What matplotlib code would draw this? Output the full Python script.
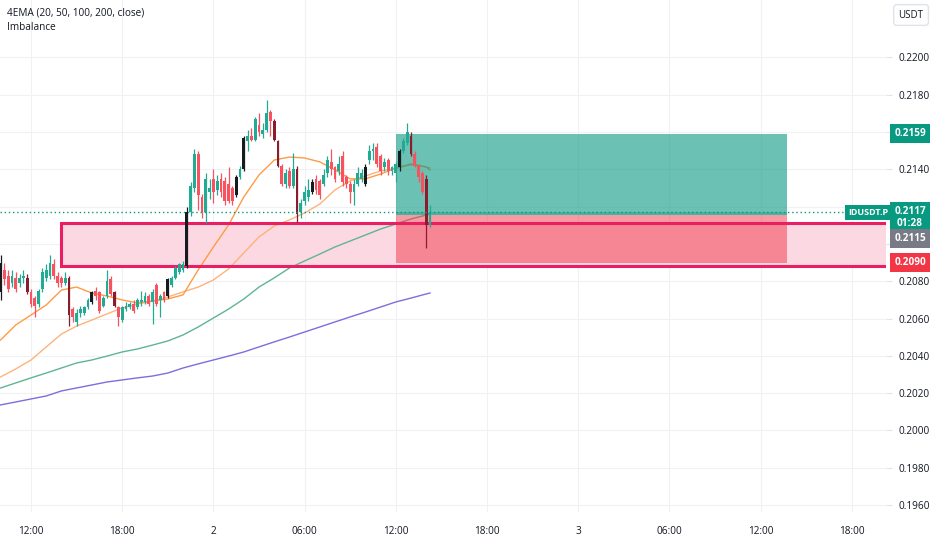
import matplotlib
matplotlib.use("Agg")
import matplotlib.pyplot as plt
from matplotlib.patches import Rectangle
from matplotlib.transforms import blended_transform_factory
import numpy as np

plt.rcParams['font.family'] = ['Open Sans', 'DejaVu Sans']

# 15 minute candles, index 0 = day 1 10:00
opens = [.2074, .2086, .2083, .2079, .2082, .2079, .2082, .2082, .2074, .2071,
         .2068, .2076, .2082, .2083, .2089, .2083, .2082, .2079, .2082, .2065,
         .2058, .2063, .2063, .2066, .2069, .2075, .2074, .2067, .2072, .2081,
         .2074, .2066, .2059, .2065, .2066, .2068, .2066, .2069, .2069, .2072,
         .2069, .2078, .2070, .2074, .2072, .2078, .2082, .2085, .2086, .2088,
         .2117, .2130, .2148, .2125, .2117, .2128, .2135, .2129, .2135, .2134,
         .2132, .2130, .2126, .2136, .2140, .2155, .2158, .2156, .2164, .2159,
         .2161, .2171, .2166, .2155, .2142, .2132, .2139, .2131, .2140, .2117,
         .2123, .2125, .2128, .2135, .2134, .2132, .2138, .2144, .2141, .2139,
         .2147, .2136, .2132, .2128, .2132, .2135, .2132, .2145, .2150, .2152,
         .2147, .2141, .2145, .2139, .2138, .2141, .2150, .2154, .2158, .2148,
         .2142, .2138, .2135, .2110]
highs = [.2094, .2090, .2086, .2086, .2085, .2084, .2086, .2084, .2076, .2072,
         .2076, .2087, .2089, .2094, .2092, .2085, .2083, .2085, .2083, .2066,
         .2065, .2067, .2067, .2071, .2075, .2077, .2075, .2072, .2086, .2083,
         .2075, .2067, .2067, .2069, .2069, .2070, .2071, .2075, .2074, .2073,
         .2076, .2079, .2073, .2075, .2082, .2083, .2088, .2090, .2091, .2120,
         .2133, .2151, .2150, .2127, .2138, .2135, .2140, .2137, .2138, .2136,
         .2141, .2131, .2137, .2142, .2158, .2161, .2162, .2168, .2170, .2165,
         .2177, .2172, .2167, .2156, .2143, .2140, .2141, .2149, .2142, .2124,
         .2131, .2135, .2135, .2137, .2135, .2140, .2147, .2151, .2142, .2147,
         .2150, .2137, .2134, .2135, .2141, .2140, .2143, .2153, .2154, .2154,
         .2148, .2146, .2146, .2142, .2144, .2151, .2157, .2165, .2160, .2150,
         .2143, .2139, .2137, .2121]
lows = [.2070, .2078, .2074, .2077, .2074, .2077, .2079, .2073, .2066, .2061,
        .2066, .2074, .2080, .2081, .2081, .2077, .2077, .2078, .2056, .2058,
        .2056, .2061, .2062, .2065, .2068, .2070, .2063, .2066, .2071, .2072,
        .2066, .2056, .2058, .2064, .2065, .2063, .2065, .2067, .2068, .2067,
        .2057, .2067, .2061, .2069, .2071, .2077, .2081, .2084, .2085, .2087,
        .2115, .2128, .2118, .2114, .2111, .2124, .2122, .2126, .2125, .2121,
        .2122, .2121, .2125, .2135, .2139, .2150, .2155, .2155, .2158, .2157,
        .2160, .2158, .2155, .2141, .2131, .2130, .2130, .2130, .2112, .2114,
        .2121, .2123, .2127, .2127, .2124, .2131, .2136, .2137, .2133, .2137,
        .2131, .2130, .2122, .2121, .2131, .2133, .2131, .2143, .2145, .2141,
        .2137, .2139, .2137, .2137, .2133, .2139, .2149, .2153, .2147, .2141,
        .2133, .2127, .2098, .2109]
closes = [.2090, .2081, .2076, .2083, .2076, .2082, .2083, .2074, .2068, .2067,
          .2075, .2085, .2086, .2090, .2083, .2079, .2079, .2082, .2062, .2061,
          .2063, .2065, .2066, .2070, .2074, .2072, .2064, .2071, .2080, .2073,
          .2067, .2061, .2066, .2067, .2068, .2064, .2070, .2070, .2072, .2068,
          .2074, .2068, .2072, .2070, .2081, .2082, .2087, .2089, .2089, .2117,
          .2131, .2148, .2126, .2117, .2135, .2130, .2128, .2134, .2128, .2123,
          .2123, .2123, .2136, .2140, .2157, .2158, .2156, .2167, .2160, .2161,
          .2170, .2166, .2156, .2142, .2132, .2138, .2131, .2140, .2116, .2122,
          .2128, .2129, .2133, .2129, .2126, .2137, .2145, .2140, .2135, .2143,
          .2133, .2132, .2128, .2132, .2138, .2138, .2141, .2150, .2151, .2143,
          .2139, .2144, .2139, .2141, .2143, .2150, .2155, .2160, .2148, .2142,
          .2136, .2128, .2110, .2117]
# candles painted dark by the Imbalance script
dark_idx = [0, 7, 18, 24, 30, 44, 49, 62, 64, 72, 73, 78, 82, 96, 105, 108, 112]

# EMA values read at hourly candles
ema_idx = [0, 4, 8, 12, 16, 20, 24, 28, 32, 36, 40, 44, 48, 52, 56, 60, 64, 68,
           72, 76, 80, 84, 88, 92, 96, 100, 104, 108, 112, 113]
ema20 = [.20485, .20566, .20619, .20673, .20753, .20769, .20737, .20721, .20700,
         .20684, .20694, .20705, .20727, .20861, .20984, .21102, .21252, .21370,
         .21450, .21466, .21461, .21440, .21397, .21349, .21349, .21375, .21407,
         .21429, .21413, .21397]
ema50 = [.20287, .20330, .20378, .20448, .20517, .20560, .20592, .20625, .20657,
         .20678, .20694, .20716, .20743, .20769, .20807, .20866, .20952, .21038,
         .21096, .21129, .21166, .21214, .21290, .21338, .21365, .21391, .21407,
         .21424, .21413, .21407]
ema100 = [.20228, .20255, .20282, .20308, .20335, .20362, .20378, .20399, .20421,
          .20437, .20458, .20480, .20512, .20555, .20603, .20651, .20705, .20769,
          .20818, .20871, .20909, .20946, .20984, .21016, .21048, .21080, .21107,
          .21134, .21155, .21161]
ema200 = [.20137, .20153, .20169, .20185, .20212, .20228, .20244, .20260, .20271,
          .20282, .20292, .20308, .20335, .20357, .20378, .20399, .20421, .20448,
          .20475, .20501, .20528, .20555, .20582, .20609, .20635, .20662, .20689,
          .20710, .20732, .20737]

# imbalance zone and long position tool
imb_start, imb_top, imb_bottom = 16, 0.21112, 0.20882
pos_start, pos_end = 104, 207
pos_target, pos_entry, pos_stop = 0.2159, 0.21155, 0.2090
last_price = 0.2117
ema100_last = 0.2115

time_ticks = [8, 32, 56, 80, 104, 128, 152, 176, 200, 224]
time_labels = ['12:00', '18:00', '2', '06:00', '12:00', '18:00', '3', '06:00', '12:00', '18:00']
price_ticks = np.round(np.arange(0.1960, 0.22001, 0.002), 4)
hidden_ticks = [0.2160, 0.2120, 0.2100]  # covered by the price labels

GREEN, RED = '#22ab94', '#f7525f'
TXT = '#131722'

fig = plt.figure(figsize=(9.32, 5.5), dpi=100)
ax = fig.add_axes([0, 38 / 550, 886 / 932, 512 / 550])
ax.set_xlim(-0.16, 233.0)
ax.set_ylim(0.19563, 0.22308)
x_max = ax.get_xlim()[1]

for s in ax.spines.values():
    s.set_visible(False)
ax.set_xticks(time_ticks)
ax.set_xticklabels(time_labels)
ax.set_yticks(price_ticks)
ax.set_yticklabels(['' if any(abs(p - q) < 1e-6 for q in hidden_ticks) else f'{p:.4f}'
                    for p in price_ticks])
ax.yaxis.tick_right()
ax.tick_params(axis='x', length=0, pad=10, labelsize=7.2, labelcolor=TXT)
ax.tick_params(axis='y', length=4, color='#e0e3eb', pad=5, labelsize=7.2, labelcolor=TXT)
ax.grid(True, color='#f0f1f4', linewidth=0.8, zorder=0)
ax.set_axisbelow(True)

# imbalance fill
ax.add_patch(Rectangle((imb_start, imb_bottom), x_max - imb_start, imb_top - imb_bottom,
                       facecolor='#fcd8e3', edgecolor='none', zorder=1))

# EMAs
ax.plot(ema_idx, ema200, color='#7b6fdc', lw=1, zorder=1.5)
ax.plot(ema_idx, ema100, color='#5fb592', lw=1, zorder=1.5)
ax.plot(ema_idx, ema50, color='#ffb27a', lw=1, zorder=1.5)
ax.plot(ema_idx, ema20, color='#ff9b45', lw=1, zorder=1.5)

# position tool
w = pos_end - pos_start
ax.add_patch(Rectangle((pos_start, pos_entry), w, pos_target - pos_entry,
                       facecolor='#089981', alpha=0.6, edgecolor='none', zorder=2))
ax.add_patch(Rectangle((pos_start, pos_entry), w, last_price - pos_entry,
                       facecolor='#089981', alpha=0.35, edgecolor='none', zorder=2))
ax.add_patch(Rectangle((pos_start, pos_stop), w, pos_entry - pos_stop,
                       facecolor='#f23645', alpha=0.5, edgecolor='none', zorder=2))

# imbalance border
ax.add_patch(Rectangle((imb_start, imb_bottom), x_max - imb_start + 1, imb_top - imb_bottom,
                       facecolor='none', edgecolor='#e91e63', lw=2.2, zorder=2.5))

# candles
n = len(opens)
idx = np.arange(n)
o, h, l, c = map(np.array, (opens, highs, lows, closes))
up = c >= o
cols = []
for i in range(n):
    if i in dark_idx:
        cols.append('#151b1e' if up[i] else '#8a1c2e')
    else:
        cols.append(GREEN if up[i] else RED)
ax.vlines(idx, l, h, colors=cols, lw=0.9, zorder=3)
body = np.maximum(np.abs(c - o), 0.00004)
ax.bar(idx, body, bottom=np.minimum(o, c), width=0.7, color=cols, linewidth=0, zorder=3.1)

# last price dotted line
ax.axhline(last_price, xmax=846 / 886, color='#089981', lw=1, ls=(0, (1, 2)), zorder=3.5)

# legend texts
fig.text(7 / 932, 1 - 13 / 550, '4EMA (20, 50, 100, 200, close)', fontsize=7.2, color=TXT, va='center')
fig.text(7 / 932, 1 - 27 / 550, 'Imbalance', fontsize=7.2, color=TXT, va='center')

# price scale labels
tr = blended_transform_factory(fig.transFigure, ax.transData)
lab = dict(transform=tr, ha='center', va='center', fontsize=7.2, color='white',
           fontweight='bold', zorder=10, clip_on=False)
box = dict(boxstyle='square,pad=0.4', ec='none')
fig.text(0.9764, pos_target, f'{pos_target:.4f}', bbox=dict(box, fc='#089981'), **lab)
fig.text(0.9764, last_price - 0.00027, f'{last_price:.4f}\n01:28', linespacing=1.1,
         bbox=dict(box, fc='#089981'), **lab)
fig.text(0.9312, last_price, 'IDUSDT.P', transform=tr, ha='center', va='center', fontsize=6.5,
         color='white', fontweight='bold', zorder=10,
         bbox=dict(boxstyle='square,pad=0.35', fc='#089981', ec='none'))
fig.text(0.9764, ema100_last - 0.0012, f'{ema100_last:.4f}', bbox=dict(box, fc='#787b86'), **lab)
fig.text(0.9764, pos_stop, f'{pos_stop:.4f}', bbox=dict(box, fc='#f23645'), **lab)

fig.text(0.9775, 1 - 15 / 550, 'USDT', ha='center', va='center', fontsize=7, color=TXT,
         bbox=dict(boxstyle='round,pad=0.5,rounding_size=0.3', fc='white', ec='#e0e3eb'))

fig.savefig('out.png', dpi=100, facecolor='white')
